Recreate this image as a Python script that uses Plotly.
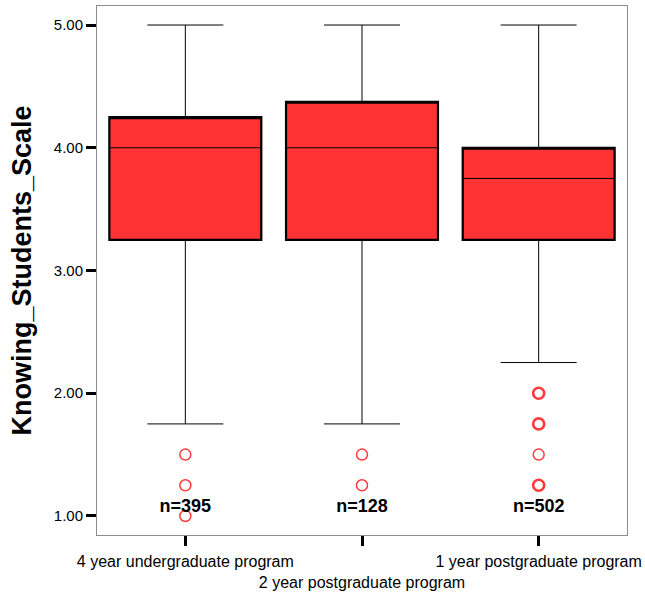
import plotly.graph_objects as go

# Program groups and the staggered labels shown under the axis
programs = ["4 year undergraduate program", "2 year postgraduate program", "1 year postgraduate program"]
tick_labels = ["4 year undergraduate program", "<br>2 year postgraduate program", "1 year postgraduate program"]

# Box statistics of Knowing_Students_Scale per program
q1 = [3.25, 3.25, 3.25]
median = [4.0, 4.0, 3.75]
q3 = [4.25, 4.375, 4.0]
lower_whisker = [1.75, 1.75, 2.25]
upper_whisker = [5.0, 5.0, 5.0]

# Outlying cases per program
outliers = [[1.5, 1.25, 1.0], [1.5, 1.25], [2.0, 1.75, 1.5, 1.25]]
# Stroke widths for the outlier circles (heavier where several cases coincide)
outlier_stroke = [[1.5, 1.5, 1.5], [1.5, 1.5], [2.6, 2.6, 1.5, 2.6]]

# Group sizes
counts = [395, 128, 502]

y_ticks = [1.0, 2.0, 3.0, 4.0, 5.0]

RED = "#FF3333"
FONT = "Arial, Liberation Sans, sans-serif"
BOX_WIDTH = 0.86

fig = go.Figure()

# Heavy box outline (interquartile range only)
fig.add_trace(go.Box(
    x=programs, q1=q1, median=q3, q3=q3, lowerfence=q1, upperfence=q3,
    width=BOX_WIDTH,
    fillcolor=RED, line=dict(color="black", width=2.2), whiskerwidth=0,
    boxpoints=False, hoverinfo="skip",
))

# Whiskers and median line
fig.add_trace(go.Box(
    x=programs, q1=q1, median=median, q3=q3,
    lowerfence=lower_whisker, upperfence=upper_whisker,
    width=BOX_WIDTH,
    fillcolor="rgba(0,0,0,0)", line=dict(color="black", width=1), whiskerwidth=0.5,
    boxpoints=False,
))

# Outlier circles
ox, oy, ow = [], [], []
for prog, vals, widths in zip(programs, outliers, outlier_stroke):
    ox += [prog] * len(vals)
    oy += vals
    ow += widths
fig.add_trace(go.Scatter(
    x=ox, y=oy, mode="markers",
    marker=dict(symbol="circle-open", size=11, color="#FF3B3B", line=dict(width=ow, color="#FF3B3B")),
))

# Group size labels
fig.add_trace(go.Scatter(
    x=programs, y=[1.07] * len(programs), mode="text",
    text=[f"n={n}" for n in counts],
    textfont=dict(family=FONT, size=18, color="black", weight="bold"),
    textposition="middle center",
))

fig.update_layout(
    width=645, height=594,
    margin=dict(l=97, r=18, t=6, b=59),
    paper_bgcolor="white", plot_bgcolor="white",
    showlegend=False,
    boxmode="overlay",
    font=dict(family=FONT, color="black"),
    xaxis=dict(
        type="category", tickmode="array", tickvals=programs, ticktext=tick_labels,
        ticks="outside", ticklen=10, tickwidth=3, tickcolor="black",
        showline=True, mirror=True, linecolor="#8c8c8c", linewidth=1,
        showgrid=False, tickfont=dict(size=16, family=FONT),
        tickangle=0, automargin=False, ticklabelstandoff=2,
        range=[-0.5, 2.5],
    ),
    yaxis=dict(
        range=[0.845, 5.155], tickmode="array", tickvals=y_ticks, tickformat=".2f",
        ticks="outside", ticklen=10, tickwidth=3, tickcolor="black",
        showline=True, mirror=True, linecolor="#8c8c8c", linewidth=1,
        showgrid=False, zeroline=False, tickfont=dict(size=15, family=FONT),
        automargin=False,
        title=dict(text="<b>Knowing_Students_Scale</b>", font=dict(size=27, family=FONT), standoff=14),
    ),
)

fig.write_html("out.html")
